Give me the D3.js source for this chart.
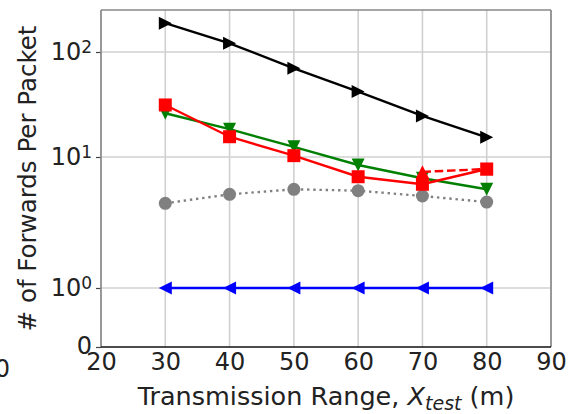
<!DOCTYPE html>
<html>
<head>
<meta charset="utf-8">
<script src="https://cdn.jsdelivr.net/npm/d3@7"></script>
<style>
  body { margin: 0; background: #fff; }
  svg { font-family: "DejaVu Sans", sans-serif; }
</style>
</head>
<body>
<div id="chart"></div>
<script>
// values
const ranges = [30, 40, 50, 60, 70, 80];
const blackValues = [188, 121, 70, 42, 24.6, 15.4];
const greenValues = [26.1, 18.4, 12.5, 8.69, 6.88, 5.67];
const redValues = [31.3, 15.6, 10.3, 7.07, 6.19, 8.1];
const redDashedRanges = [70, 80];
const redDashedValues = [7.7, 8.1];
const grayValues = [4.43, 5.19, 5.67, 5.53, 5.04, 4.53];
const blueValues = [1, 1, 1, 1, 1, 1];

const xTicks = [20, 30, 40, 50, 60, 70, 80, 90];
const yTicks = [0, 1, 10, 100];
const yTickLabels = [["0", null], ["10", "0"], ["10", "1"], ["10", "2"]];

// set the dimensions and margins of the graph
const margin = { top: 10, right: 29, bottom: 67, left: 101 },
  width = 580 - margin.left - margin.right,
  height = 414 - margin.top - margin.bottom;

const svg = d3
  .select("#chart")
  .append("svg")
  .attr("width", width + margin.left + margin.right)
  .attr("height", height + margin.top + margin.bottom);

const g = svg
  .append("g")
  .attr("transform", `translate(${margin.left}, ${margin.top})`);

// x scale
const x = d3.scaleLinear().domain([20, 90]).range([0, width]);

// y: linear below 1, log above (the decades are not equally spaced in the figure)
const forward = (v) => (v <= 1 ? v : 1 + Math.log10(v));
const yT = d3
  .scaleLinear()
  .domain([0, 1, 2, 3, 3.4])
  .range([height, height - 59, height - 190, height - 295, 0]);
const y = (v) => yT(forward(v));

// grid
g.append("g")
  .selectAll("line")
  .data(xTicks)
  .join("line")
  .attr("x1", (d) => x(d))
  .attr("x2", (d) => x(d))
  .attr("y1", 0)
  .attr("y2", height)
  .style("stroke", "#d0d0d0")
  .style("stroke-width", 1.6);

g.append("g")
  .selectAll("line")
  .data(yTicks.slice(1))
  .join("line")
  .attr("x1", 0)
  .attr("x2", width)
  .attr("y1", (d) => y(d))
  .attr("y2", (d) => y(d))
  .style("stroke", "#d0d0d0")
  .style("stroke-width", 1.6);

// x axis
const xAxis = g
  .append("g")
  .attr("transform", `translate(0, ${height})`)
  .style("font-size", "24px")
  .style("font-family", "DejaVu Sans")
  .call(d3.axisBottom(x).tickValues(xTicks).tickSize(0).tickPadding(6));
xAxis.select(".domain").remove();
xAxis.selectAll(".tick text").attr("fill", "#222");

// y axis
const yAxis = g
  .append("g")
  .style("font-size", "24px")
  .style("font-family", "DejaVu Sans")
  .call(
    d3
      .axisLeft(yT)
      .tickValues(yTicks.map(forward))
      .tickSize(5)
      .tickPadding(4)
      .tickFormat("")
  );
yAxis.select(".domain").remove();
yAxis.selectAll(".tick line").attr("stroke", "#444").attr("stroke-width", 1.2);
yAxis.selectAll(".tick text").each(function (d, i) {
  const t = d3.select(this).attr("fill", "#222");
  const lab = yTickLabels[i];
  t.append("tspan").text(lab[0]);
  if (lab[1] !== null) {
    t.append("tspan")
      .attr("dy", "-0.42em")
      .style("font-size", "17px")
      .text(lab[1]);
  }
});
// "0" sits a little low like the original
yAxis.selectAll(".tick text").filter((d, i) => i === 0).attr("dy", "0.25em");

// spines
g.append("line")
  .attr("x1", 0).attr("x2", 0).attr("y1", 0).attr("y2", height)
  .style("stroke", "#888").style("stroke-width", 1.6);
g.append("line")
  .attr("x1", width).attr("x2", width).attr("y1", 0).attr("y2", height)
  .style("stroke", "#888").style("stroke-width", 1.6);
g.append("line")
  .attr("x1", 0).attr("x2", width).attr("y1", 0).attr("y2", 0)
  .style("stroke", "#888").style("stroke-width", 1.6);
g.append("line")
  .attr("x1", 0).attr("x2", width).attr("y1", height).attr("y2", height)
  .style("stroke", "#111").style("stroke-width", 1.6);

// marker paths, size m
const m = 13;
const h = m / 2;
const markers = {
  right: `M${h},0L${-h},${-h}L${-h},${h}Z`,
  left: `M${-h},0L${h},${-h}L${h},${h}Z`,
  down: `M0,${h}L${-h},${-h}L${h},${-h}Z`,
  up: `M0,${-h}L${-h},${h}L${h},${h}Z`,
  square: `M${-h},${-h}H${h}V${h}H${-h}Z`,
  circle: d3.symbol(d3.symbolCircle, Math.PI * h * h)(),
};

const line = d3
  .line()
  .x((d) => x(d[0]))
  .y((d) => y(d[1]));

function drawSeries(xs, values, color, marker, dash) {
  const pts = xs.map((r, i) => [r, values[i]]);
  g.append("path")
    .datum(pts)
    .attr("d", line)
    .style("fill", "none")
    .style("stroke", color)
    .style("stroke-width", 2.4)
    .style("stroke-dasharray", dash || null);
  g.append("g")
    .selectAll("path")
    .data(pts)
    .join("path")
    .attr("transform", (d) => `translate(${x(d[0])}, ${y(d[1])})`)
    .attr("d", markers[marker])
    .style("fill", color);
}

drawSeries(ranges, grayValues, "#808080", "circle", "2.4,3.8");
drawSeries(ranges, blueValues, "#0000ff", "left");
drawSeries(ranges, blackValues, "#000000", "right");
drawSeries(ranges, greenValues, "#008000", "down");
drawSeries(redDashedRanges, redDashedValues, "#ff0000", "up", "8.5,3.8");
drawSeries(ranges, redValues, "#ff0000", "square");

// axis labels
svg
  .append("text")
  .attr("x", margin.left + width / 2)
  .attr("y", 405)
  .attr("text-anchor", "middle")
  .style("font-size", "25.5px")
  .attr("fill", "#222")
  .call((t) => {
    t.append("tspan").text("Transmission Range, ");
    t.append("tspan").style("font-style", "italic").text("X");
    t.append("tspan")
      .style("font-style", "italic")
      .style("font-size", "19px")
      .attr("dy", "5")
      .text("test");
    t.append("tspan").attr("dy", "-5").text(" (m)");
  });

svg
  .append("text")
  .attr("transform", `translate(36, ${margin.top + height / 2}) rotate(-90)`)
  .attr("text-anchor", "middle")
  .style("font-size", "24.5px")
  .attr("fill", "#222")
  .text("# of Forwards Per Packet");

// edge of the neighbouring panel's last tick label
svg
  .append("text")
  .attr("x", 10)
  .attr("y", height + margin.top + 30)
  .attr("text-anchor", "end")
  .style("font-size", "24px")
  .attr("fill", "#222")
  .text("90");
</script>
</body>
</html>
